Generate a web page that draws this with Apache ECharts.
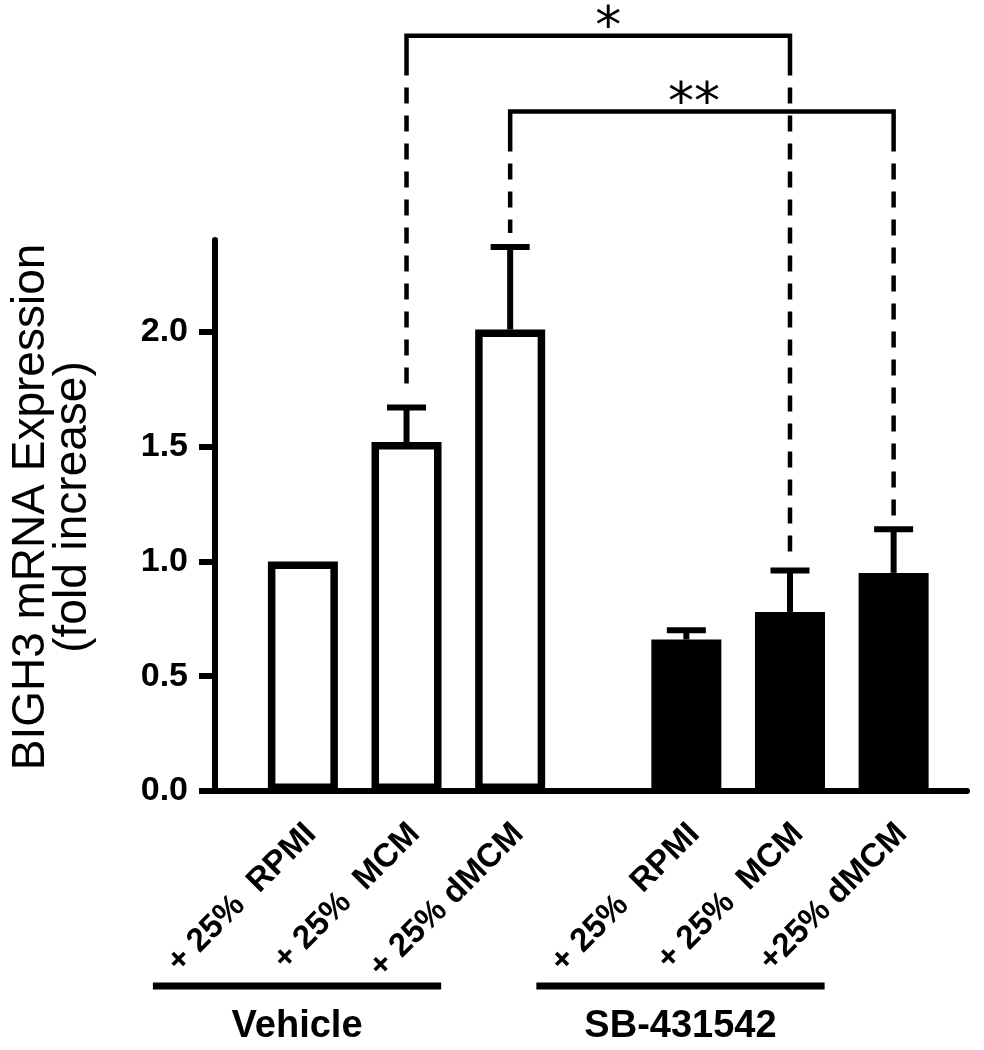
<!DOCTYPE html>
<html><head><meta charset="utf-8">
<script src="https://cdn.jsdelivr.net/npm/echarts@6/dist/echarts.min.js"></script>
<style>html,body{margin:0;padding:0;background:#fff}#chart{width:984px;height:1050px}</style>
</head><body><div id="chart"></div>
<script>
// ---- data ----
const categories = ['+ 25%  RPMI', '+ 25%  MCM', '+ 25% dMCM', '+ 25%  RPMI', '+ 25%  MCM', '+25% dMCM'];
const groups = ['Vehicle', 'Vehicle', 'Vehicle', 'SB-431542', 'SB-431542', 'SB-431542'];
const groupNames = ['Vehicle', 'SB-431542'];
const means = [1.00, 1.52, 2.01, 0.66, 0.78, 0.95];
const errors = [0, 0.15, 0.36, 0.04, 0.18, 0.19];
const yTicks = [0, 0.5, 1.0, 1.5, 2.0];
const comparisons = [{a: 1, b: 4, label: '*'}, {a: 2, b: 5, label: '**'}];
const yTitle = ['BIGH3 mRNA Expression', '(fold increase)'];

// ---- layout ----
const GROUP_GAP = 0.7;
const LABEL_SHIFT = 0.08;
const BRACKET_LEVELS = [3.29, 2.96];
const STAR_SHIFT_PX = [10, -8];
const BRACKET_SOLID = 0.174;
const BRACKET_CLEAR = 0.06;
const FONT = 'Liberation Sans';

const positions = categories.map((_, i) => i + groupNames.indexOf(groups[i]) * GROUP_GAP);
const labelValues = positions.map(p => p + LABEL_SHIFT);
function nearestIndex(v) {
  let best = 0;
  labelValues.forEach((p, i) => { if (Math.abs(p - v) < Math.abs(labelValues[best] - v)) best = i; });
  return best;
}

const chart = echarts.init(document.getElementById('chart'));
const option = {
  animation: false,
  backgroundColor: '#fff',
  textStyle: {fontFamily: FONT, color: '#000'},
  grid: {left: 209.5, right: 17, top: 240, bottom: 259, containLabel: false},
  xAxis: {
    type: 'value', min: -0.848, max: 6.408,
    splitLine: {show: false}, axisTick: {show: false},
    axisLine: {onZero: false, lineStyle: {color: '#000', width: 6}},
    axisLabel: {
      customValues: labelValues, rotate: 45, margin: 38,
      fontSize: 33, fontWeight: 'bold', color: '#000', fontFamily: FONT,
      formatter: v => categories[nearestIndex(v)]
    }
  },
  yAxis: {
    type: 'value', min: 0, max: 2.4, interval: 0.5,
    splitLine: {show: false},
    axisLine: {show: true, onZero: false, lineStyle: {color: '#000', width: 6}},
    axisTick: {show: true, length: 16, customValues: yTicks, lineStyle: {color: '#000', width: 6}},
    axisLabel: {customValues: yTicks, formatter: v => v.toFixed(1), fontSize: 34, fontWeight: 'bold', margin: 27, color: '#000', fontFamily: FONT},
    name: yTitle.join('\n'), nameLocation: 'middle', nameRotate: 90, nameGap: 121,
    nameTextStyle: {fontSize: 46, lineHeight: 42, color: '#000', fontFamily: FONT, padding: [0, 0, 0, 17]}
  },
  series: [
    {
      type: 'bar', barWidth: 70,
      data: positions.map((p, i) => ({
        value: [p, means[i]],
        itemStyle: {color: groups[i] === groupNames[0] ? '#fff' : '#000'}
      })),
      itemStyle: {borderColor: '#000', borderWidth: 7.5},
      z: 2
    },
    {
      type: 'custom', clip: false, z: 3,
      encode: {x: 0, y: 1},
      data: positions.map((p, i) => [p, means[i], errors[i]]),
      renderItem(params, api) {
        const x = api.value(0), m = api.value(1), e = api.value(2);
        if (!e) return {type: 'group', children: []};
        const b = api.coord([x, m]), t = api.coord([x, m + e]);
        const st = {stroke: '#000', lineWidth: 6};
        return {type: 'group', children: [
          {type: 'line', shape: {x1: b[0], y1: b[1], x2: t[0], y2: t[1]}, style: st},
          {type: 'line', shape: {x1: t[0] - 19.5, y1: t[1], x2: t[0] + 19.5, y2: t[1]}, style: st}
        ]};
      }
    },
    {
      type: 'custom', clip: false, z: 4,
      encode: {x: [0, 1], y: 2},
      data: comparisons.map((c, k) => [positions[c.a], positions[c.b], BRACKET_LEVELS[k],
        means[c.a] + errors[c.a], means[c.b] + errors[c.b]]),
      renderItem(params, api) {
        const xa = api.value(0), xb = api.value(1), lvl = api.value(2), ta = api.value(3), tb = api.value(4);
        const pA = api.coord([xa, lvl]), pB = api.coord([xb, lvl]);
        const lowY = api.coord([xa, lvl - BRACKET_SOLID])[1];
        const endA = api.coord([xa, ta + BRACKET_CLEAR])[1];
        const endB = api.coord([xb, tb + BRACKET_CLEAR])[1];
        const solid = {stroke: '#000', lineWidth: 4.5, fill: null};
        const dashed = {stroke: '#000', lineWidth: 4.5, lineDash: [16, 12], lineDashOffset: 16};
        return {type: 'group', children: [
          {type: 'polyline', shape: {points: [[pA[0], lowY], [pA[0], pA[1]], [pB[0], pB[1]], [pB[0], lowY]]}, style: solid},
          {type: 'line', shape: {x1: pA[0], y1: lowY, x2: pA[0], y2: endA}, style: dashed},
          {type: 'line', shape: {x1: pB[0], y1: lowY, x2: pB[0], y2: endB}, style: dashed},
          {type: 'text', x: (pA[0] + pB[0]) / 2 + STAR_SHIFT_PX[params.dataIndex], y: pA[1] - 6,
           style: {text: comparisons[params.dataIndex].label, fontSize: 52, fontFamily: 'DejaVu Sans', fill: '#000', align: 'center', verticalAlign: 'middle'}}
        ]};
      }
    },
    {
      type: 'custom', clip: false, z: 4,
      encode: {x: [0, 1], y: 2},
      data: groupNames.map(g => {
        const idx = groups.map((gg, i) => gg === g ? i : -1).filter(i => i >= 0);
        return [positions[idx[0]], positions[idx[idx.length - 1]], 0];
      }),
      renderItem(params, api) {
        const a = api.coord([api.value(0), 0]), b = api.coord([api.value(1), 0]);
        const x1 = a[0] - 150, x2 = b[0] - 69, y = a[1] + 195;
        return {type: 'group', children: [
          {type: 'line', shape: {x1: x1, y1: y, x2: x2, y2: y}, style: {stroke: '#000', lineWidth: 7}},
          {type: 'text', x: (x1 + x2) / 2, y: a[1] + 236,
           style: {text: groupNames[params.dataIndex], fontSize: 38, fontWeight: 'bold', fontFamily: FONT, fill: '#000', align: 'center', verticalAlign: 'middle'}}
        ]};
      }
    }
  ]
};
chart.setOption(option);
</script>
</body></html>
